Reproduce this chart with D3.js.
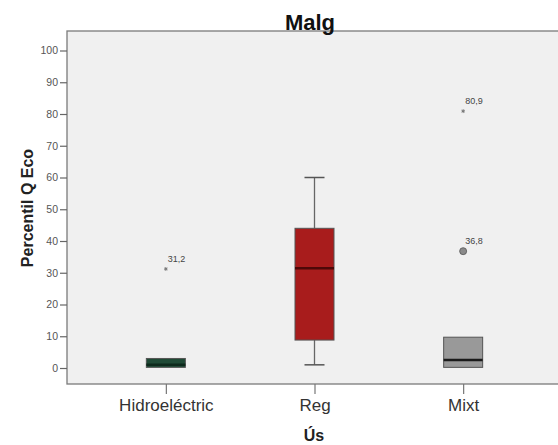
<!DOCTYPE html>
<html>
<head>
<meta charset="utf-8">
<script src="https://cdn.jsdelivr.net/npm/d3@7"></script>
<style>
  body { margin: 0; background: #fff; }
  svg { display: block; font-family: Arial, "Liberation Sans", sans-serif; }
</style>
</head>
<body>
<svg id="chart" width="558" height="445"></svg>
<script>
// Categories and box-plot summaries
const categories = ["Hidroeléctric", "Reg", "Mixt"];
const whiskerLow  = [0, 1, 0];
const q1Values    = [0.2, 8.8, 0.2];
const medians     = [1, 31.4, 2.5];
const q3Values    = [3, 44, 9.7];
const whiskerHigh = [3, 60, 9.7];
const boxColors   = ["#1f4a36", "#a81c1c", "#999999"];
const medianColors = ["#0d2a1c", "#4e0808", "#1a1a1a"];

// Outliers: category, value, label, kind (circle / star)
const outlierCats   = ["Hidroeléctric", "Mixt", "Mixt"];
const outlierValues = [31.2, 80.9, 36.8];
const outlierLabels = ["31,2", "80,9", "36,8"];
const outlierKinds  = ["star", "star", "circle"];

const yTicks = [0, 10, 20, 30, 40, 50, 60, 70, 80, 90, 100];

const svg = d3.select("#chart");
const plot = { left: 67, top: 31, right: 562, bottom: 384 };

const x = d3.scalePoint().domain(categories)
  .range([plot.left, plot.right]).padding(0.665);
const y = d3.scaleLinear().domain([0, 100]).range([368, 50.5]);

// Plot background
svg.append("rect")
  .attr("x", plot.left).attr("y", plot.top)
  .attr("width", plot.right - plot.left + 10).attr("height", plot.bottom - plot.top)
  .attr("fill", "#f0f0f0").attr("stroke", "#7a7a7a").attr("stroke-width", 1.3);

// Y axis
const yAxis = svg.append("g")
  .attr("transform", `translate(${plot.left},0)`)
  .call(d3.axisLeft(y).tickValues(yTicks).tickSize(7).tickPadding(2).tickFormat(d3.format("d")));
yAxis.select(".domain").remove();
yAxis.selectAll("line").attr("stroke", "#666").attr("stroke-width", 1.2);
yAxis.selectAll("text").attr("font-size", 10.5).attr("fill", "#555");

// X axis
const xAxis = svg.append("g")
  .attr("transform", `translate(0,${plot.bottom})`)
  .call(d3.axisBottom(x).tickSize(10).tickPadding(5));
xAxis.select(".domain").remove();
xAxis.selectAll("line").attr("stroke", "#777").attr("stroke-width", 1.2);
xAxis.selectAll("text").attr("font-size", 17).attr("fill", "#333");

const boxW = 39;
const capW = 20;

categories.forEach((c, i) => {
  const cx = x(c);
  const g = svg.append("g");
  // whiskers
  if (whiskerHigh[i] > q3Values[i]) {
    g.append("line").attr("x1", cx).attr("x2", cx)
      .attr("y1", y(q3Values[i])).attr("y2", y(whiskerHigh[i]))
      .attr("stroke", "#666").attr("stroke-width", 1.3);
    g.append("line").attr("x1", cx - capW / 2).attr("x2", cx + capW / 2)
      .attr("y1", y(whiskerHigh[i])).attr("y2", y(whiskerHigh[i]))
      .attr("stroke", "#555").attr("stroke-width", 1.5);
  }
  if (whiskerLow[i] < q1Values[i] - 0.5) {
    g.append("line").attr("x1", cx).attr("x2", cx)
      .attr("y1", y(q1Values[i])).attr("y2", y(whiskerLow[i]))
      .attr("stroke", "#666").attr("stroke-width", 1.3);
    g.append("line").attr("x1", cx - capW / 2).attr("x2", cx + capW / 2)
      .attr("y1", y(whiskerLow[i])).attr("y2", y(whiskerLow[i]))
      .attr("stroke", "#555").attr("stroke-width", 1.5);
  }
  // box
  g.append("rect")
    .attr("x", cx - boxW / 2).attr("y", y(q3Values[i]))
    .attr("width", boxW).attr("height", y(q1Values[i]) - y(q3Values[i]))
    .attr("fill", boxColors[i]).attr("stroke", "#555").attr("stroke-width", 1);
  // median
  g.append("line")
    .attr("x1", cx - boxW / 2).attr("x2", cx + boxW / 2)
    .attr("y1", y(medians[i])).attr("y2", y(medians[i]))
    .attr("stroke", medianColors[i]).attr("stroke-width", 2.5);
});

// Outliers
outlierValues.forEach((v, i) => {
  const cx = x(outlierCats[i]);
  const cy = y(v);
  if (outlierKinds[i] === "circle") {
    svg.append("circle").attr("cx", cx).attr("cy", cy).attr("r", 3.5)
      .attr("fill", "#8a8a8a").attr("stroke", "#555").attr("stroke-width", 0.8);
  } else {
    svg.append("path")
      .attr("d", d3.symbol(d3.symbolAsterisk, 10)())
      .attr("transform", `translate(${cx},${cy})`)
      .attr("stroke", "#777").attr("stroke-width", 1);
  }
  svg.append("text")
    .attr("x", cx + 2).attr("y", cy - 7)
    .attr("font-size", 9).attr("fill", "#444")
    .text(outlierLabels[i]);
});

// Title, sitting on the top edge of the plot frame
svg.append("text")
  .attr("x", 310).attr("y", 30)
  .attr("text-anchor", "middle").attr("font-size", 22).attr("font-weight", "bold")
  .attr("fill", "#111").text("Malg");

// Axis titles
svg.append("text")
  .attr("x", 314).attr("y", 441)
  .attr("text-anchor", "middle").attr("font-size", 16).attr("font-weight", "bold")
  .attr("fill", "#222").text("Ús");

svg.append("text")
  .attr("transform", `translate(33,208) rotate(-90)`)
  .attr("text-anchor", "middle").attr("font-size", 16).attr("font-weight", "bold")
  .attr("fill", "#222").text("Percentil Q Eco");
</script>
</body>
</html>
